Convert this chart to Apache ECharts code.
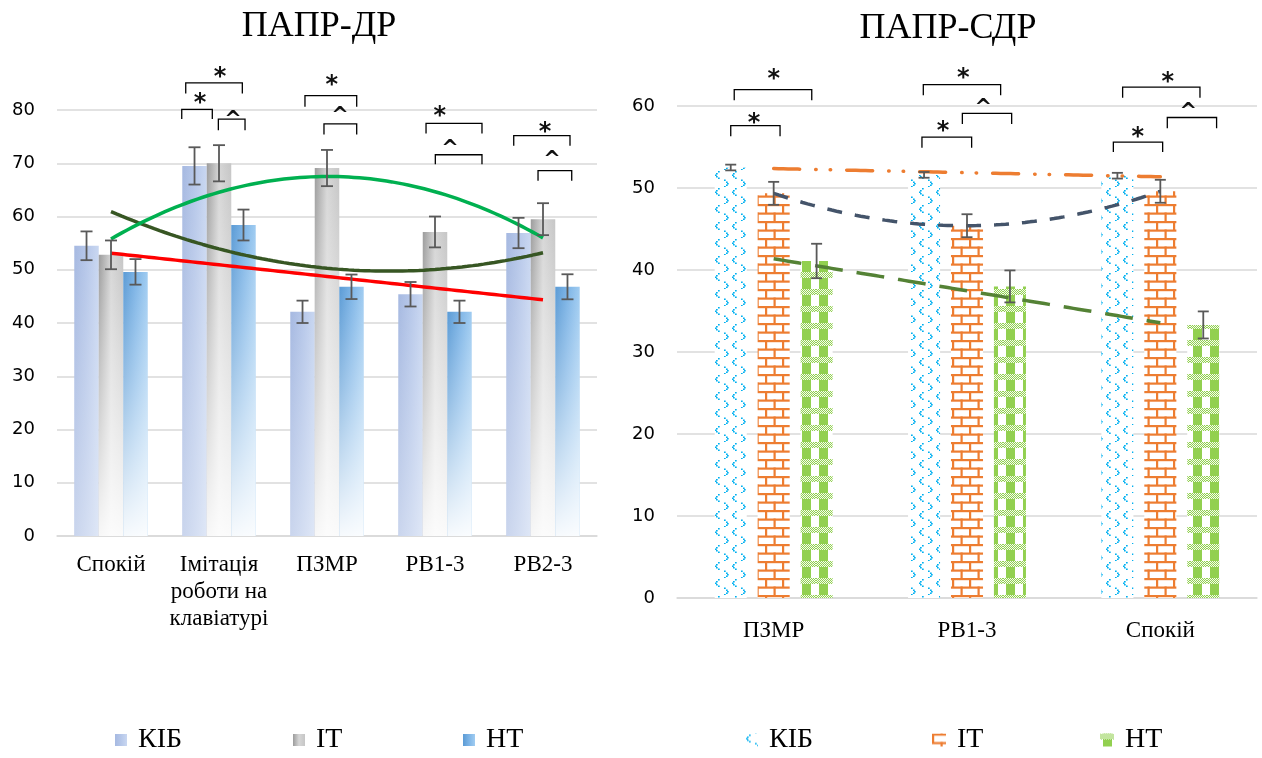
<!DOCTYPE html>
<html><head><meta charset="utf-8">
<script src="https://cdn.jsdelivr.net/npm/echarts@6/dist/echarts.min.js"></script>
<style>html,body{margin:0;padding:0;background:#fff}#c{width:1262px;height:758px}</style>
</head><body><div id="c"></div>
<script>
// ---------------- DATA ----------------
const seriesNames = ['КІБ', 'ІТ', 'НТ'];
const leftTitle = 'ПАПР-ДР';
const rightTitle = 'ПАПР-СДР';

const leftCategories = ['Спокій', 'Імітація\nроботи на\nклавіатурі', 'ПЗМР', 'РВ1-3', 'РВ2-3'];
const leftKIB = [54.5, 69.5, 42.1, 45.4, 56.9];
const leftIT  = [52.8, 70.0, 69.1, 57.1, 59.5];
const leftNT  = [49.6, 58.4, 46.8, 42.1, 46.8];
const leftKIBErr = [2.7, 3.5, 2.1, 2.3, 2.85];
const leftITErr  = [2.7, 3.4, 3.4, 2.9, 3.0];
const leftNTErr  = [2.4, 2.9, 2.3, 2.1, 2.35];

const rightCategories = ['ПЗМР', 'РВ1-3', 'Спокій'];
const rightKIB = [52.5, 51.6, 51.5];
const rightIT  = [49.35, 45.4, 49.6];
const rightNT  = [41.1, 38.0, 33.3];
const rightKIBErr = [0.35, 0.35, 0.35];
const rightITErr  = [1.4, 1.4, 1.4];
const rightNTErr  = [2.1, 1.95, 1.65];

const leftAxis = { min: 0, max: 80, interval: 10 };
const rightAxis = { min: 0, max: 60, interval: 10 };

// significance marks: [x1, x2, yTop, yLegBottom, labelX, labelY, symbolIndex] (x in category units, 1 = first category)
const markSymbols = ['*', '^'];
const leftBrackets = [
  [1.655, 1.938, 80.1, 78.3, 1.824, 82.1, 0],
  [1.692, 2.216, 85.1, 83.1, 2.009, 87.0, 0],
  [1.994, 2.241, 78.3, 76.2, 2.130, 79.0, 1],
  [2.796, 3.275, 82.7, 80.6, 3.044, 85.5, 0],
  [2.972, 3.275, 77.4, 75.4, 3.120, 79.7, 1],
  [3.917, 4.435, 77.5, 75.6, 4.044, 79.6, 0],
  [4.003, 4.435, 71.6, 69.8, 4.139, 73.6, 1],
  [4.729, 5.250, 75.2, 73.3, 5.019, 76.7, 0],
  [4.954, 5.266, 68.6, 66.7, 5.083, 71.4, 1]
];
const rightBrackets = [
  [0.796, 1.197, 62.0, 60.7, 1.000, 63.8, 0],
  [0.778, 1.033, 57.6, 56.3, 0.898, 58.5, 0],
  [1.774, 2.174, 62.6, 61.3, 1.981, 63.9, 0],
  [1.976, 2.231, 59.1, 57.8, 2.084, 60.3, 1],
  [1.767, 2.024, 56.2, 54.9, 1.876, 57.5, 0],
  [2.805, 3.205, 62.3, 61.0, 3.038, 63.4, 0],
  [3.036, 3.291, 58.6, 57.3, 3.144, 59.8, 1],
  [2.757, 3.012, 55.6, 54.4, 2.883, 56.7, 0]
];

// ---------------- HELPERS ----------------
const SERIF = '"Liberation Serif", "Times New Roman", serif';
const SANS = '"DejaVu Sans", sans-serif';
const LEFT_CAT_GAP = 0.32, LEFT_BAR_GAP = 0;
const RIGHT_CAT_GAP = 0.39, RIGHT_BAR_GAP = 0.34;

function barOffsets(catGap, barGap, n) {
  const w = (1 - catGap) / (n + (n - 1) * barGap);
  const out = [];
  for (let i = 0; i < n; i++) out.push((i - (n - 1) / 2) * w * (1 + barGap));
  return out;
}
const leftOffsets = barOffsets(LEFT_CAT_GAP, LEFT_BAR_GAP, 3);
const rightOffsets = barOffsets(RIGHT_CAT_GAP, RIGHT_BAR_GAP, 3);

// least-squares polynomial fit (trendline, as in the original spreadsheet chart)
function polyfit(ys, deg) {
  const n = deg + 1, A = [], b = [];
  for (let i = 0; i < n; i++) { A.push(new Array(n).fill(0)); b.push(0); }
  ys.forEach((y, k) => {
    const x = k + 1;
    for (let i = 0; i < n; i++) {
      for (let j = 0; j < n; j++) A[i][j] += Math.pow(x, i + j);
      b[i] += y * Math.pow(x, i);
    }
  });
  for (let i = 0; i < n; i++) {
    let p = i;
    for (let r = i + 1; r < n; r++) if (Math.abs(A[r][i]) > Math.abs(A[p][i])) p = r;
    [A[i], A[p]] = [A[p], A[i]]; [b[i], b[p]] = [b[p], b[i]];
    for (let r = i + 1; r < n; r++) {
      const f = A[r][i] / A[i][i];
      for (let c = i; c < n; c++) A[r][c] -= f * A[i][c];
      b[r] -= f * b[i];
    }
  }
  const coef = new Array(n).fill(0);
  for (let i = n - 1; i >= 0; i--) {
    let s = b[i];
    for (let c = i + 1; c < n; c++) s -= A[i][c] * coef[c];
    coef[i] = s / A[i][i];
  }
  return coef;
}
function trendPoints(ys, deg) {
  const coef = polyfit(ys, deg), pts = [], steps = 80;
  for (let s = 0; s <= steps; s++) {
    const x = 1 + (ys.length - 1) * s / steps;
    let y = 0;
    coef.forEach((c, i) => { y += c * Math.pow(x, i); });
    pts.push([x, y]);
  }
  return pts;
}

function makeCanvas(w, h, draw) {
  const c = document.createElement('canvas'); c.width = w; c.height = h;
  const g = c.getContext('2d'); g.fillStyle = '#fff'; g.fillRect(0, 0, w, h); draw(g); return c;
}
const dotsPattern = makeCanvas(17, 17, g => {
  g.fillStyle = '#00b0f0';
  const chev = (ox, oy, dir) => {
    const pts = dir < 0 ? [[3, 0], [1, 2], [0, 3.5], [1, 5], [3, 6.5]] : [[0, 0], [2, 2], [3, 3.5], [2, 5], [0, 6.5]];
    pts.forEach(p => g.fillRect(ox + p[0], oy + p[1], 1.7, 1.5));
  };
  chev(1, 1, -1); chev(10, 9.5, 1);
});
const brickPattern = makeCanvas(17, 17, g => {
  g.fillStyle = '#ed7d31';
  g.fillRect(0, 0, 17, 2.2); g.fillRect(0, 8.5, 17, 2.2);
  g.fillRect(0, 0, 2.2, 9); g.fillRect(8.5, 8.5, 2.2, 8.5);
});
const checkPattern = makeCanvas(17, 17, g => {
  g.fillStyle = '#92d050';
  g.fillRect(3, 0, 9, 17);
  for (let y = 0; y < 6; y++) for (let x = 0; x < 17; x++) {
    g.fillStyle = ((x + y) % 2 === 0) ? '#92d050' : '#f4faee';
    g.fillRect(x, y, 1, 1);
  }
});

const grad = (stops, vertical) => new echarts.graphic.LinearGradient(0, 0, vertical ? 0 : 1, vertical ? 1 : 0,
  stops.map(s => ({ offset: s[0], color: s[1] })));

const leftColors = [
  grad([[0, '#a6b9e1'], [0.5, '#b6c7e9'], [1, '#c9d7f1']]),
  grad([[0, '#9c9c9c'], [0.5, '#d6d6d6'], [1, '#c6c6c6']]),
  grad([[0, '#5b9bd5'], [0.5, '#7db4e6'], [1, '#a0ccf1']])
];
const leftFades = [
  grad([[0, 'rgba(255,255,255,0)'], [1, 'rgba(255,255,255,0.4)']], true),
  grad([[0, 'rgba(255,255,255,0)'], [0.35, 'rgba(255,255,255,0.35)'], [1, 'rgba(255,255,255,0.92)']], true),
  grad([[0, 'rgba(255,255,255,0)'], [0.4, 'rgba(255,255,255,0.35)'], [1, 'rgba(255,255,255,0.95)']], true)
];
const rightFills = [
  { image: dotsPattern, repeat: 'repeat' },
  { image: brickPattern, repeat: 'repeat' },
  { image: checkPattern, repeat: 'repeat' }
];

function errRender(offsets, cap) {
  return function (params, api) {
    const c = api.value(0), v = api.value(1), e = api.value(2), s = api.value(3);
    const band = api.size([1, 0])[0];
    const x = api.coord([c, v])[0] + offsets[s] * band;
    const y1 = api.coord([c, v + e])[1], y2 = api.coord([c, v - e])[1];
    const st = { stroke: '#595959', lineWidth: 1.8 };
    return { type: 'group', children: [
      { type: 'line', shape: { x1: x, y1: y1, x2: x, y2: y2 }, style: st },
      { type: 'line', shape: { x1: x - cap / 2, y1: y1, x2: x + cap / 2, y2: y1 }, style: st },
      { type: 'line', shape: { x1: x - cap / 2, y1: y2, x2: x + cap / 2, y2: y2 }, style: st }
    ] };
  };
}
function bracketRender(params, api) {
  const x1 = api.value(0), x2 = api.value(1), yt = api.value(2), yb = api.value(3);
  const lx = api.value(4), ly = api.value(5), sym = api.value(6);
  const p1 = api.coord([x1, yb]), p2 = api.coord([x1, yt]), p3 = api.coord([x2, yt]), p4 = api.coord([x2, yb]);
  const lp = api.coord([lx, ly]);
  return { type: 'group', children: [
    { type: 'polyline', shape: { points: [p1, p2, p3, p4] }, style: { stroke: '#000', lineWidth: 1.3, fill: null } },
    { type: 'text', x: lp[0], y: lp[1] + 5, style: { text: markSymbols[sym], font: (sym === 0 ? 'bold 24px ' : 'bold 21px ') + SANS, fill: '#111', align: 'center', verticalAlign: 'middle' } }
  ] };
}
function errData(vals, errs, s) { return vals.map((v, i) => [i, v, errs[i], s]); }

// ---------------- OPTION ----------------
const leftVals = [leftKIB, leftIT, leftNT], leftErrs = [leftKIBErr, leftITErr, leftNTErr];
const rightVals = [rightKIB, rightIT, rightNT], rightErrs = [rightKIBErr, rightITErr, rightNTErr];

const series = [];
leftVals.forEach((vals, i) => series.push({
  type: 'bar', name: seriesNames[i], xAxisIndex: 0, yAxisIndex: 0, data: vals,
  barGap: (LEFT_BAR_GAP * 100) + '%', barCategoryGap: (LEFT_CAT_GAP * 100) + '%',
  itemStyle: { color: leftColors[i] }, z: 2
}));
leftVals.forEach((vals, i) => series.push({
  type: 'bar', name: '_fade' + i, xAxisIndex: 2, yAxisIndex: 0, data: vals, silent: true,
  barGap: (LEFT_BAR_GAP * 100) + '%', barCategoryGap: (LEFT_CAT_GAP * 100) + '%',
  itemStyle: { color: leftFades[i] }, z: 3
}));
[[leftKIB, 2, '#375623'], [leftIT, 2, '#00b050'], [leftNT, 1, '#ff0000']].forEach((t, i) => series.push({
  type: 'line', name: '_trendL' + i, xAxisIndex: 1, yAxisIndex: 0, data: trendPoints(t[0], t[1]),
  showSymbol: false, silent: true, lineStyle: { color: t[2], width: 3.5 }, z: 4
}));
series.push({
  type: 'custom', name: '_errL', xAxisIndex: 0, yAxisIndex: 0, silent: true, clip: false, z: 5,
  encode: { x: 0, y: 1 },
  data: [].concat(...leftVals.map((v, i) => errData(v, leftErrs[i], i))),
  renderItem: errRender(leftOffsets, 12)
});
series.push({
  type: 'custom', name: '_brL', xAxisIndex: 1, yAxisIndex: 0, silent: true, clip: false, z: 6,
  encode: { x: 0, y: 2 }, data: leftBrackets, renderItem: bracketRender
});

rightVals.forEach((vals, i) => series.push({
  type: 'bar', name: seriesNames[i] + '#R', xAxisIndex: 3, yAxisIndex: 1, data: vals,
  barGap: (RIGHT_BAR_GAP * 100) + '%', barCategoryGap: (RIGHT_CAT_GAP * 100) + '%',
  itemStyle: { color: rightFills[i] }, z: 2
}));
[[rightKIB, 1, '#ed7d31', [26, 16, 0.5, 14, 0.5, 16], 'round'],
 [rightIT, 2, '#44546a', [15, 13], 'butt'],
 [rightNT, 1, '#548235', [28, 14], 'butt']].forEach((t, i) => series.push({
  type: 'line', name: '_trendR' + i, xAxisIndex: 4, yAxisIndex: 1, data: trendPoints(t[0], t[1]),
  showSymbol: false, silent: true, lineStyle: { color: t[2], width: 3.5, type: t[3], cap: t[4] }, z: 4
}));
series.push({
  type: 'custom', name: '_errR', xAxisIndex: 3, yAxisIndex: 1, silent: true, clip: false, z: 5,
  encode: { x: 0, y: 1 },
  data: [].concat(...rightVals.map((v, i) => errData(v, rightErrs[i], i))),
  renderItem: errRender(rightOffsets, 11)
});
series.push({
  type: 'custom', name: '_brR', xAxisIndex: 4, yAxisIndex: 1, silent: true, clip: false, z: 6,
  encode: { x: 0, y: 2 }, data: rightBrackets, renderItem: bracketRender
});

const gridLine = { lineStyle: { color: '#d9d9d9', width: 1.5 } };
const yLabel = { fontFamily: SANS, fontSize: 18, color: '#000', margin: 22 };
const xLabel = { fontFamily: SERIF, fontSize: 23, color: '#000', lineHeight: 27, interval: 0 };

const legendText = { fontFamily: SERIF, fontSize: 28, color: '#000', padding: [0, 0, 0, 6] };
function legendItem(name, left, top, w, h) {
  return {
    data: [{ name: name }], left: left, top: top, padding: 0, itemWidth: w, itemHeight: h, icon: 'rect',
    selectedMode: false, formatter: n => n.split('#')[0], textStyle: legendText
  };
}

const option = {
  animation: false,
  backgroundColor: '#fff',
  graphic: [
    { type: 'text', x: 319, y: 27, style: { text: leftTitle, font: '36px ' + SERIF, fill: '#000', align: 'center', verticalAlign: 'middle' } },
    { type: 'text', x: 948, y: 29, style: { text: rightTitle, font: '36px ' + SERIF, fill: '#000', align: 'center', verticalAlign: 'middle' } }
  ],
  legend: [
    legendItem(seriesNames[0], 115, 726, 12, 12),
    legendItem(seriesNames[1], 293, 726, 12, 12),
    legendItem(seriesNames[2], 463, 726, 12, 12),
    legendItem(seriesNames[0] + '#R', 745, 726, 13, 13),
    legendItem(seriesNames[1] + '#R', 932, 726, 14, 13),
    legendItem(seriesNames[2] + '#R', 1100, 726, 14, 13)
  ],
  grid: [
    { left: 57, width: 540, top: 110, height: 426 },
    { left: 677, width: 580, top: 106, height: 492 }
  ],
  xAxis: [
    { type: 'category', gridIndex: 0, data: leftCategories, axisTick: { show: false },
      axisLine: gridLine, axisLabel: Object.assign({ margin: 15 }, xLabel) },
    { type: 'value', gridIndex: 0, min: 0.5, max: leftCategories.length + 0.5, show: false },
    { type: 'category', gridIndex: 0, data: leftCategories, show: false },
    { type: 'category', gridIndex: 1, data: rightCategories, axisTick: { show: false },
      axisLine: gridLine, axisLabel: Object.assign({ margin: 19 }, xLabel) },
    { type: 'value', gridIndex: 1, min: 0.5, max: rightCategories.length + 0.5, show: false }
  ],
  yAxis: [
    { type: 'value', gridIndex: 0, min: leftAxis.min, max: leftAxis.max, interval: leftAxis.interval,
      axisLine: { show: false }, axisTick: { show: false }, splitLine: gridLine, axisLabel: yLabel },
    { type: 'value', gridIndex: 1, min: rightAxis.min, max: rightAxis.max, interval: rightAxis.interval,
      axisLine: { show: false }, axisTick: { show: false }, splitLine: gridLine, axisLabel: yLabel }
  ],
  series: series
};

const chart = echarts.init(document.getElementById('c'), null, { renderer: 'canvas' });
chart.setOption(option);
</script>
</body></html>
